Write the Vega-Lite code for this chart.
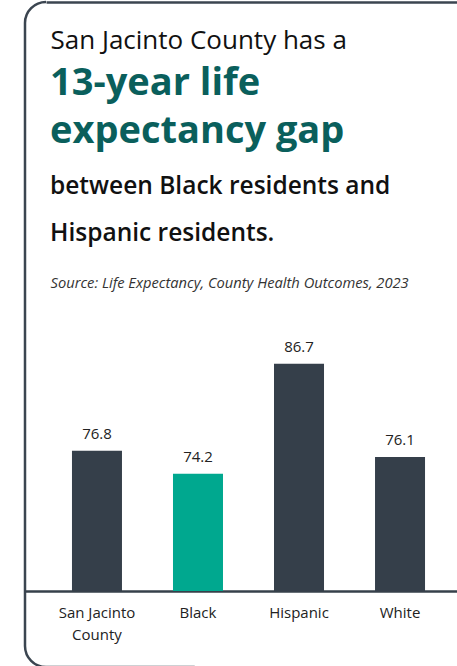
{
  "$schema": "https://vega.github.io/schema/vega-lite/v6.json",
  "autosize": {"type": "none"},
  "width": 447,
  "height": 665,
  "padding": {"left": 25, "top": 2, "right": -15, "bottom": -1},
  "background": "white",
  "config": {
    "font": "Open Sans",
    "view": {"stroke": "#3b4550", "strokeWidth": 2.5, "cornerRadius": 21, "strokeDash": [0, 1350, 1160, 3000]}
  },
  "title": {
    "text": ["13-year life", "expectancy gap"],
    "subtitle": ["between Black residents and", "Hispanic residents."],
    "anchor": "start",
    "frame": "group",
    "dx": 25,
    "offset": -243,
    "font": "Open Sans",
    "fontSize": 38,
    "fontWeight": "bold",
    "color": "#0a5f5c",
    "lineHeight": 48,
    "subtitleFont": "Open Sans",
    "subtitleFontSize": 24.5,
    "subtitleFontWeight": 600,
    "subtitleColor": "#111111",
    "subtitleLineHeight": 47,
    "subtitlePadding": 24
  },
  "data": {
    "values": [
      {"group": "San Jacinto County", "life": 76.8},
      {"group": "Black", "life": 74.2},
      {"group": "Hispanic", "life": 86.7},
      {"group": "White", "life": 76.1}
    ]
  },
  "encoding": {
    "y": {
      "field": "life",
      "type": "quantitative",
      "scale": {"domain": [52.204, 127.858], "zero": false, "nice": false},
      "axis": {
        "labels": false,
        "ticks": false,
        "domain": false,
        "grid": false,
        "title": "Source: Life Expectancy, County Health Outcomes, 2023",
        "titleAngle": 0,
        "titleX": 25,
        "titleY": 285,
        "titleAlign": "left",
        "titleBaseline": "alphabetic",
        "titleFont": "Open Sans",
        "titleFontStyle": "italic",
        "titleFontWeight": "normal",
        "titleFontSize": 14.7,
        "titleColor": "#333333"
      }
    }
  },
  "layer": [
    {
      "encoding": {
        "x": {
          "field": "group",
          "type": "nominal",
          "sort": null,
          "scale": {"paddingInner": 0.505, "paddingOuter": 0.465, "range": [0, 447]},
          "axis": {
            "orient": "bottom",
            "offset": -76,
            "labelAngle": 0,
            "labelFontSize": 15,
            "labelColor": "#222222",
            "labelPadding": 14,
            "labelLineHeight": 22,
            "labelExpr": "datum.value == 'San Jacinto County' ? ['San Jacinto', 'County'] : datum.value",
            "ticks": false,
            "grid": false,
            "domainColor": "#36404a",
            "domainWidth": 2.5,
            "title": "San Jacinto County has a",
            "titleX": 25,
            "titleY": -543,
            "titleAlign": "left",
            "titleBaseline": "alphabetic",
            "titleFont": "Open Sans",
            "titleFontSize": 26,
            "titleFontWeight": 500,
            "titleColor": "#111111"
          }
        }
      },
      "layer": [
        {
          "mark": {"type": "bar"},
          "encoding": {
            "y2": {"datum": 60.85},
            "color": {
              "field": "group",
              "type": "nominal",
              "scale": {
                "domain": ["San Jacinto County", "Black", "Hispanic", "White"],
                "range": ["#353f4a", "#00a88f", "#353f4a", "#353f4a"]
              },
              "legend": null
            }
          }
        },
        {
          "mark": {"type": "text", "dy": -12, "baseline": "alphabetic", "fontSize": 15, "color": "#222222"},
          "encoding": {
            "text": {"field": "life", "type": "quantitative", "format": ".1f"}
          }
        }
      ]
    },
    {
      "mark": {"type": "text", "opacity": 0},
      "encoding": {
        "x": {
          "field": "group",
          "type": "nominal",
          "sort": null,
          "scale": {"range": [21, 700]},
          "axis": {
            "orient": "top",
            "labels": false,
            "ticks": false,
            "grid": false,
            "title": null,
            "domainColor": "#3b4550",
            "domainWidth": 2.5
          }
        },
        "text": {"value": ""}
      }
    }
  ],
  "resolve": {"scale": {"x": "independent"}, "axis": {"x": "independent"}}
}
